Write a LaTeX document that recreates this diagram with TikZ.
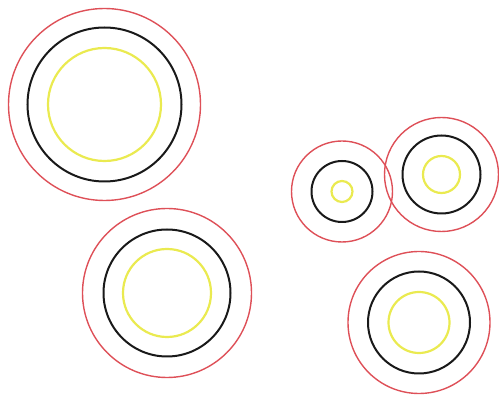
\documentclass[tikz,border=0pt]{standalone}
\definecolor{ringred}{RGB}{222,80,88}
\definecolor{ringblack}{RGB}{25,25,25}
\definecolor{ringyellow}{RGB}{234,234,80}
\tikzset{
  redring/.style={draw=ringred,line width=1.4pt},
  blackring/.style={draw=ringblack,line width=2pt},
  yellowring/.style={draw=ringyellow,line width=2.2pt},
  pics/rings/.style n args={3}{code={
    \draw[redring] (0,0) circle[radius=#1];
    \draw[blackring] (0,0) circle[radius=#2];
    \draw[yellowring] (0,0) circle[radius=#3];
  }}
}
\begin{document}
\begin{tikzpicture}[x=1pt,y=-1pt]
\useasboundingbox (0,0) rectangle (499,398);
\pic at (104.5,104.5) {rings={96}{77}{56.5}};
\pic at (167,293) {rings={84.5}{63.5}{44}};
\pic at (342,191.5) {rings={50.5}{30.5}{10.5}};
\pic at (441.5,174.5) {rings={57}{39}{18.5}};
\pic at (419,322.5) {rings={71}{51}{30.5}};
\end{tikzpicture}
\end{document}
